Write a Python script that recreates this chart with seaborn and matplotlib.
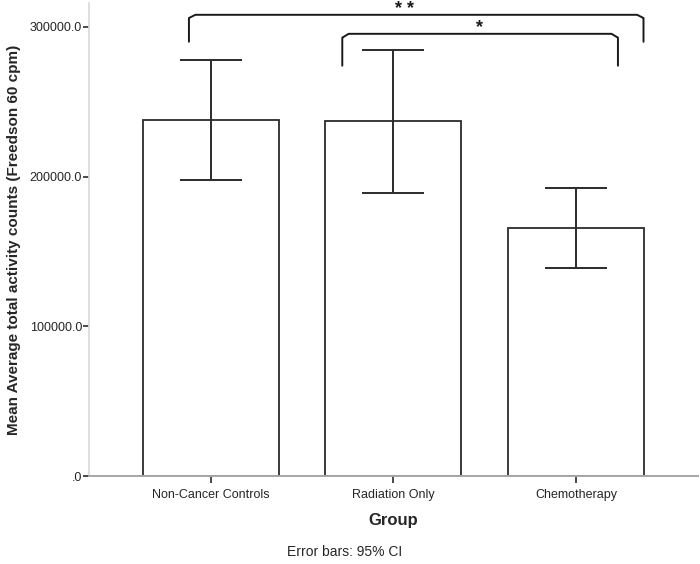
import matplotlib
matplotlib.use("Agg")
import matplotlib.pyplot as plt
import numpy as np
import pandas as pd
import seaborn as sns

# ─── data ────────────────────────────────────────────────────────────────────
groups = ["Non-Cancer Controls", "Radiation Only", "Chemotherapy"]
means = [237900, 237200, 165700]
ci_low = [197600, 189300, 139000]
ci_high = [278000, 284800, 192400]
yticks = [0, 100000, 200000, 300000]
ytick_labels = [".0", "100000.0", "200000.0", "300000.0"]

# significance brackets: (left x, right x, top y, foot y, label, label x, label y)
brackets = [
    (-0.12, 2.37, 308000, 290000, "* *", 1.06, 308700),
    (0.72, 2.23, 295300, 274000, "*", 1.47, 296400),
]

# ─── style ───────────────────────────────────────────────────────────────────
sns.set_theme(style="white")
plt.rcParams["font.family"] = ["Liberation Sans", "DejaVu Sans"]

df = pd.DataFrame({"group": groups, "mean": means})

fig = plt.figure(figsize=(7.0, 5.64), dpi=100)
ax = fig.add_axes([0.127, 0.156, 0.870, 0.839])

sns.barplot(data=df, x="group", y="mean", order=groups, color="white",
            edgecolor="#2b2b2b", linewidth=1.3, width=0.745, errorbar=None, ax=ax)

xs = np.arange(len(groups))
lo = np.array(means) - np.array(ci_low)
hi = np.array(ci_high) - np.array(means)
ax.errorbar(xs, means, yerr=[lo, hi], fmt="none", ecolor="#2b2b2b",
            elinewidth=1.4, capsize=22, capthick=1.4, zorder=5)

ax.set_xlim(-0.668, 2.668)
ax.set_ylim(0, 316000)
ax.set_yticks(yticks)
ax.set_yticklabels(ytick_labels, fontsize=9)
ax.tick_params(axis="x", labelsize=9, length=5, width=1.2, color="#2b2b2b",
               bottom=True, pad=4)
ax.tick_params(axis="y", length=4, width=1.2, color="#2b2b2b", left=True, pad=1)

for side in ["top", "right"]:
    ax.spines[side].set_visible(False)
ax.spines["left"].set_color("#d9d9d9")
ax.spines["bottom"].set_color("#a6a6a6")
ax.spines["bottom"].set_linewidth(1.4)

ax.set_xlabel("Group", fontsize=12, fontweight="bold", labelpad=9)
ax.set_ylabel("Mean Average total activity counts (Freedson 60 cpm)",
              fontsize=11, fontweight="bold", labelpad=6)

# brackets with slightly curved feet
for x0, x1, ytop, yfoot, label, lx, ly in brackets:
    t = np.linspace(0, 1, 12)
    cx = 0.035
    cy = 0.12 * (ytop - yfoot)
    left_x = np.concatenate([[x0], x0 + cx * np.sin(t * np.pi / 2)])
    left_y = np.concatenate([[yfoot], ytop - cy + cy * np.sin(t * np.pi / 2)])
    right_x = np.concatenate([x1 - cx * np.cos(t * np.pi / 2), [x1]])
    right_y = np.concatenate([ytop - cy + cy * np.cos(t * np.pi / 2), [yfoot]])
    bx = np.concatenate([left_x, right_x])
    by = np.concatenate([left_y, right_y])
    ax.plot(bx, by, color="#1a1a1a", linewidth=1.4, clip_on=False, zorder=6)
    ax.text(lx, ly, label, ha="center", va="baseline", fontsize=13,
            fontweight="bold", color="#1a1a1a", clip_on=False)

fig.text(0.493, 0.022, "Error bars: 95% CI", ha="center", va="center", fontsize=10)

plt.savefig("out.png", dpi=100)
plt.close()
